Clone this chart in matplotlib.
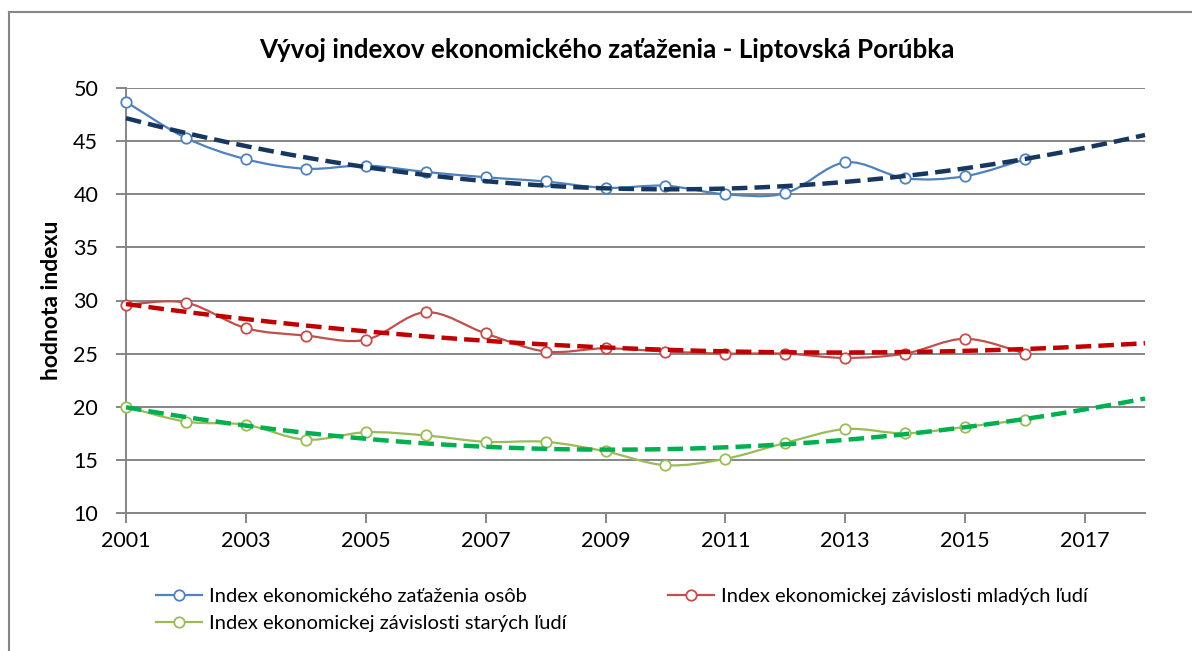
import numpy as np
import matplotlib
matplotlib.use('Agg')
from matplotlib import pyplot as plt
from matplotlib.path import Path
from matplotlib.patches import PathPatch
from matplotlib.lines import Line2D

# údaje
roky = np.arange(2001, 2017)
zatazenie_osob = [48.7, 45.3, 43.3, 42.4, 42.7, 42.1, 41.6, 41.2,
                  40.6, 40.8, 40.0, 40.1, 43.0, 41.5, 41.7, 43.3]
zavislost_mladych = [29.6, 29.8, 27.4, 26.7, 26.3, 28.9, 26.9, 25.2,
                     25.5, 25.2, 25.0, 25.0, 24.6, 25.0, 26.4, 25.0]
zavislost_starych = [20.0, 18.6, 18.3, 16.9, 17.6, 17.3, 16.7, 16.7,
                     15.8, 14.5, 15.1, 16.6, 17.9, 17.5, 18.1, 18.8]
nazvy = ['Index ekonomického zaťaženia osôb',
         'Index ekonomickej závislosti mladých ľudí',
         'Index ekonomickej závislosti starých ľudí']
farby = ['#4F81BD', '#C0504D', '#9BBB59']
farby_trend = ['#17375E', '#C00000', '#00B050']

plt.rcParams['font.family'] = ['Lato', 'DejaVu Sans']

f = plt.figure(figsize=(11.92, 6.51), dpi=100)
ax = f.add_axes([126 / 1192, 1 - 513 / 651, (1145 - 126) / 1192, (513 - 88) / 651])


def hladka_ciara(ax, x, y, farba):
    # vyhladena ciara ako v Exceli (Bezierove krivky)
    p = np.column_stack([x, y]).astype(float)
    n = len(p)
    verts = [p[0]]
    codes = [Path.MOVETO]
    for i in range(n - 1):
        p0 = p[max(i - 1, 0)]
        p3 = p[min(i + 2, n - 1)]
        c1 = p[i] + (p[i + 1] - p0) / 6
        c2 = p[i + 1] - (p3 - p[i]) / 6
        verts += [c1, c2, p[i + 1]]
        codes += [Path.CURVE4] * 3
    patch = PathPatch(Path(verts, codes), facecolor='none', edgecolor=farba,
                      lw=1.6, zorder=3, clip_on=False)
    ax.add_patch(patch)


rady = [zatazenie_osob, zavislost_mladych, zavislost_starych]
for hodnoty, farba, ftrend in zip(rady, farby, farby_trend):
    hladka_ciara(ax, roky, hodnoty, farba)
    ax.plot(roky, hodnoty, 'o', mfc='white', mec=farba, ms=7.5, mew=1.3, zorder=4,
            clip_on=False)
    # polynomicky trend 2. stupna
    koef = np.polyfit(roky - 2000, hodnoty, 2)
    xt = np.linspace(2001, 2018, 200)
    ax.plot(xt, np.polyval(koef, xt - 2000), color=ftrend, lw=3.2,
            linestyle=(0, (3.5, 1.6)), zorder=5, clip_on=False)

ax.set_xlim(2001, 2018)
ax.set_ylim(10, 50)
ax.set_xticks(np.arange(2001, 2018, 2))
ax.set_yticks(np.arange(10, 51, 5))
ax.grid(axis='y', color='#868686', lw=1.4)
ax.set_axisbelow(True)
for s in ['top', 'right']:
    ax.spines[s].set_visible(False)
for s in ['left', 'bottom']:
    ax.spines[s].set_color('#868686')
    ax.spines[s].set_linewidth(1.4)
ax.tick_params(colors='#868686', labelcolor='black', labelsize=15.5,
               length=7, width=1.4, pad=6)
ax.tick_params(axis='y', pad=13)
ax.set_ylabel('hodnota indexu', fontsize=16.5, fontweight='bold', labelpad=8)

f.text(607 / 1192, 1 - 50 / 651, 'Vývoj indexov ekonomického zaťaženia - Liptovská Porúbka',
       ha='center', va='center', fontsize=18.7, fontweight='bold')

# legenda
handles = [Line2D([], [], color=c, lw=1.6, marker='o', mfc='white', mec=c, ms=7.5, mew=1.3)
           for c in farby]
f.legend([handles[0], handles[2], handles[1]], [nazvy[0], nazvy[2], nazvy[1]],
         ncol=2, loc='upper left', bbox_to_anchor=(156 / 1192, 1 - 588 / 651),
         frameon=False, fontsize=14.5, handlelength=2.3, handletextpad=0.35,
         columnspacing=5.0, labelspacing=0.5, borderaxespad=0, borderpad=0)

# okraj grafu
f.add_artist(Line2D([9 / 1192, 9 / 1192], [0, 1 - 12 / 651], color='#868686', lw=1.5,
                    transform=f.transFigure))
f.add_artist(Line2D([9 / 1192, 1], [1 - 12 / 651, 1 - 12 / 651], color='#868686', lw=1.5,
                    transform=f.transFigure))

f.savefig('out.png', dpi=100)
